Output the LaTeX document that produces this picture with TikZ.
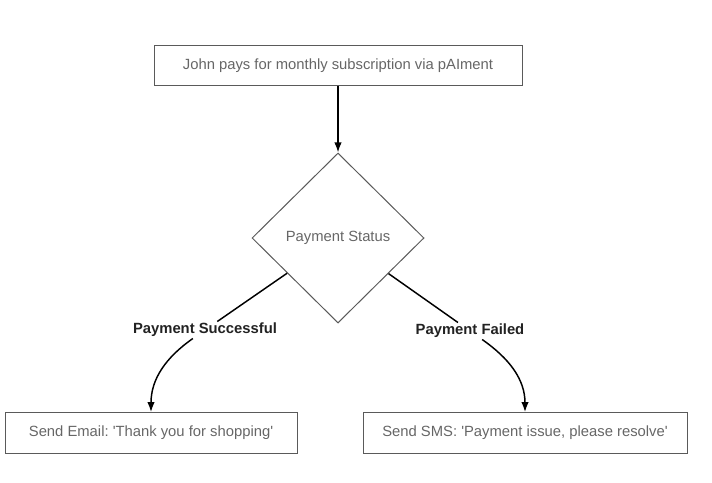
\documentclass[tikz,border=0pt]{standalone}
\usepackage{fontspec}
\setmainfont{Liberation Sans}
\usetikzlibrary{arrows.meta,shapes.geometric}
\definecolor{boxgray}{HTML}{5A5A5A}
\definecolor{txtgray}{HTML}{666666}
\definecolor{lblblack}{HTML}{222222}
\frenchspacing

\begin{document}
\begin{tikzpicture}[x=0.75pt, y=-0.75pt, every node/.style={font=\fontsize{11.1}{13}\selectfont}, >={Latex[length=7.5pt,width=5.5pt]},
	stepbox/.style={draw=boxgray, line width=0.75pt, text=txtgray, minimum height=30.5pt, inner sep=0pt},
	decision/.style={diamond, draw=boxgray, line width=0.75pt, text=txtgray, aspect=1, minimum width=129pt, minimum height=127.5pt, inner sep=0pt},
	edgelabel/.style={font=\fontsize{11.1}{13}\selectfont\bfseries, text=lblblack, inner sep=1pt},
	flow/.style={line width=1.1pt, black}]
	\useasboundingbox (0,0) rectangle (712,482);
	\node[stepbox, minimum width=276pt] (pay) at (338,65.5) {John pays for monthly subscription via pAIment};
	\node[decision] (status) at (338,238) {Payment Status};
	\node[edgelabel] (okLabel) at (205,330) {Payment Successful};
	\node[edgelabel] (failLabel) at (470,331) {Payment Failed};
	\node[stepbox, minimum width=219pt] (email) at (151,433) {Send Email: \textquotesingle Thank you for shopping\textquotesingle};
	\node[stepbox, minimum width=243pt] (sms) at (525,433) {Send SMS: \textquotesingle Payment issue, please resolve\textquotesingle};
	\draw[flow, ->] (pay) -- (status);
	\draw[flow] (status) -- (okLabel);
	\draw[flow, ->] (okLabel) to[out=-145, in=90] (email);
	\draw[flow] (status) -- (failLabel);
	\draw[flow, ->] (failLabel) to[out=-35, in=90] (sms);
\end{tikzpicture}
\end{document}
